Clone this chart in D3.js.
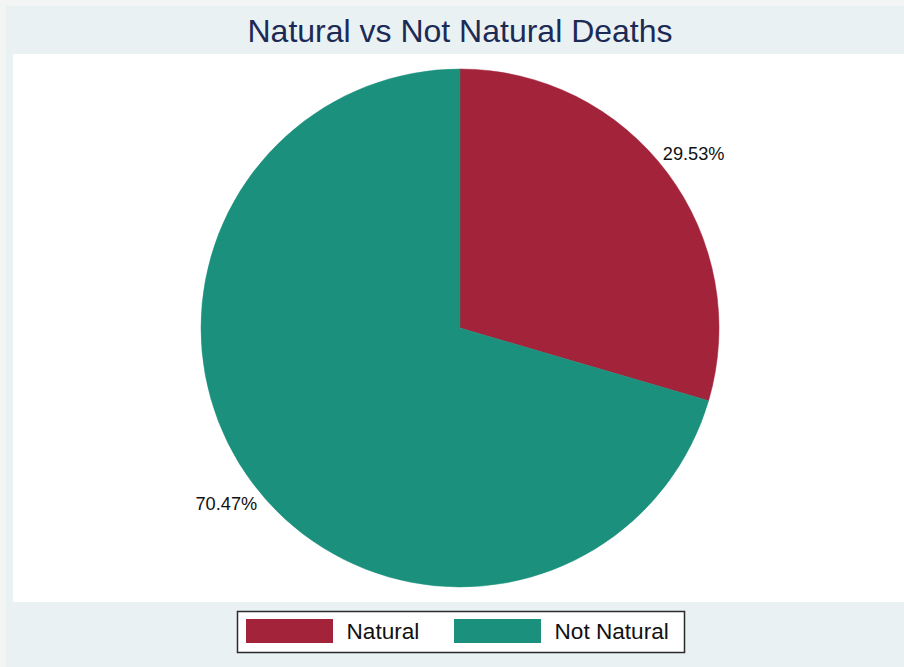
<!DOCTYPE html>
<html>
<head>
<meta charset="utf-8">
<script src="https://cdn.jsdelivr.net/npm/d3@7"></script>
<style>
  html, body { margin: 0; padding: 0; background: #f3f4f4; }
  svg { display: block; }
</style>
</head>
<body>
<svg id="chart" width="904" height="667"></svg>
<script>
// ---- data ----
const categories = ["Natural", "Not Natural"];
const values = [29.53, 70.47];
const labels = ["29.53%", "70.47%"];
const colors = ["#A2233A", "#1B917D"];
const title = "Natural vs Not Natural Deaths";

const svg = d3.select("#chart");
const W = 904, H = 667;

// outer backgrounds
svg.append("rect").attr("x", 0).attr("y", 0).attr("width", W).attr("height", H).attr("fill", "#f3f4f4");
svg.append("rect").attr("x", 6).attr("y", 6).attr("width", W - 6).attr("height", H - 6).attr("fill", "#EAF1F3");
// plot region
svg.append("rect").attr("x", 13).attr("y", 54).attr("width", W - 13).attr("height", 548).attr("fill", "#ffffff");

// title
svg.append("text")
  .attr("x", 460).attr("y", 42)
  .attr("text-anchor", "middle")
  .attr("font-family", "Liberation Sans, Arial, sans-serif")
  .attr("font-size", 32)
  .attr("fill", "#1c2b55")
  .text(title);

// pie
const cx = 460, cy = 328, R = 259, labelR = 292;
const data = categories.map((c, i) => ({ cat: c, value: values[i], label: labels[i], color: colors[i] }));
const pie = d3.pie().sort(null).value(d => d.value).startAngle(0).endAngle(2 * Math.PI);
const arcs = pie(data);
const arc = d3.arc().innerRadius(0).outerRadius(R);
const labelArc = d3.arc().innerRadius(labelR).outerRadius(labelR);

const g = svg.append("g").attr("transform", `translate(${cx},${cy})`);
g.selectAll("path.slice").data(arcs).enter().append("path")
  .attr("class", "slice")
  .attr("d", arc)
  .attr("fill", d => d.data.color)
  .attr("stroke", d => d.data.color)
  .attr("stroke-width", 0.5);

g.selectAll("text.lbl").data(arcs).enter().append("text")
  .attr("class", "lbl")
  .attr("transform", d => `translate(${labelArc.centroid(d)})`)
  .attr("text-anchor", "middle")
  .attr("dy", "0.38em")
  .attr("font-family", "Liberation Sans, Arial, sans-serif")
  .attr("font-size", 18.2)
  .attr("fill", "#111111")
  .text(d => d.data.label);

// legend
const leg = svg.append("g");
leg.append("rect")
  .attr("x", 237.5).attr("y", 611.5).attr("width", 447).attr("height", 41)
  .attr("fill", "#ffffff").attr("stroke", "#2b2b2b").attr("stroke-width", 1.5);

const legX = d3.scaleOrdinal().domain(categories).range([246, 454]);
const items = leg.selectAll("g.item").data(data).enter().append("g").attr("class", "item")
  .attr("transform", d => `translate(${legX(d.cat)},619)`);
items.append("rect")
  .attr("x", 0).attr("y", 0).attr("width", 87).attr("height", 24)
  .attr("fill", d => d.color);
items.append("text")
  .attr("x", 100.5).attr("y", 20)
  .attr("font-family", "Liberation Sans, Arial, sans-serif")
  .attr("font-size", 22.6)
  .attr("fill", "#111111")
  .text(d => d.cat);
</script>
</body>
</html>
